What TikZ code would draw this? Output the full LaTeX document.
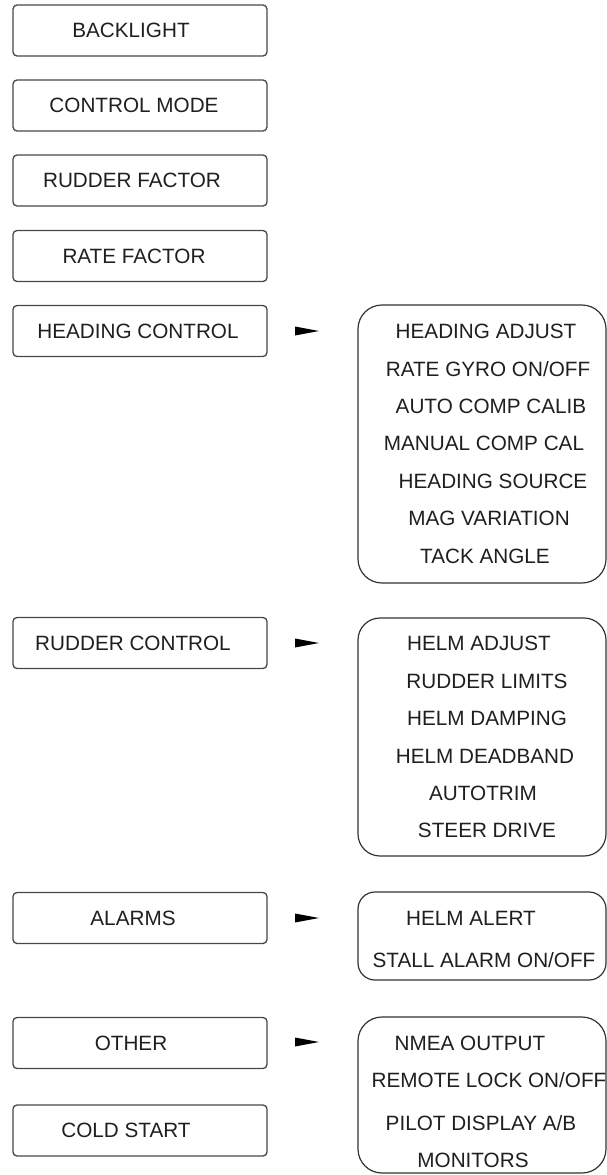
\documentclass[tikz,border=0pt]{standalone}
\usepackage{fontspec}
\setmainfont{Liberation Sans}
\begin{document}
\begin{tikzpicture}[x=1pt,y=-1pt,
  menubox/.style={draw=black!72,line width=1.3pt,rounded corners=4pt,
    minimum width=254pt,minimum height=51pt,inner sep=0pt},
  subbox/.style={draw=black!80,line width=1.2pt,inner sep=0pt},
  itemtext/.style={inner sep=0pt,text=black!88,
    font=\fontsize{20.7}{24}\selectfont},
  pointer/.style={fill=black}
]
\useasboundingbox (0,0) rectangle (607,1175);

% main menu entries
\node[menubox] (bl) at (140,30.5) {};
\node[itemtext] (blt) at (131,30.5) {BACKLIGHT};
\node[menubox] (cm) at (140,105.5) {};
\node[itemtext] (cmt) at (134,105.5) {CONTROL MODE};
\node[menubox] (rf) at (140,180.5) {};
\node[itemtext] (rft) at (132,180.5) {RUDDER FACTOR};
\node[menubox] (rtf) at (140,256) {};
\node[itemtext] (rtft) at (134,256) {RATE FACTOR};
\node[menubox] (hc) at (140,331) {};
\node[itemtext] (hct) at (138,331) {HEADING CONTROL};
\node[menubox] (rc) at (140,643) {};
\node[itemtext] (rct) at (133,643) {RUDDER CONTROL};
\node[menubox] (al) at (140,918) {};
\node[itemtext] (alt) at (133,918) {ALARMS};
\node[menubox] (ot) at (140,1043) {};
\node[itemtext] (ott) at (131,1043) {OTHER};
\node[menubox] (cs) at (140,1130.5) {};
\node[itemtext] (cst) at (126,1130.5) {COLD START};

% submenu frames
\node[subbox,rounded corners=24pt,minimum width=248pt,minimum height=278pt] (hcs) at (482,444) {};
\node[subbox,rounded corners=22pt,minimum width=248pt,minimum height=238pt] (rcs) at (482,737) {};
\node[subbox,rounded corners=17pt,minimum width=248pt,minimum height=88pt] (als) at (482,936) {};
\node[subbox,rounded corners=24pt,minimum width=248pt,minimum height=156pt] (ots) at (482,1095) {};

% pointers from entries to their submenus
\coordinate (p1) at (295,331);
\coordinate (p2) at (295,643);
\coordinate (p3) at (295,918);
\coordinate (p4) at (295,1042);
\foreach \p in {p1,p2,p3,p4}
  \fill[pointer] (\p) ++(0,-4.5) -- ++(24,4.5) -- ++(-24,4.5) -- cycle;

% heading control items
\node[itemtext] (h1) at (486,331) {HEADING ADJUST};
\node[itemtext] (h2) at (488,369) {RATE GYRO ON/OFF};
\node[itemtext] (h3) at (491,406) {AUTO COMP CALIB};
\node[itemtext] (h4) at (484,443) {MANUAL COMP CAL};
\node[itemtext] (h5) at (493,481) {HEADING SOURCE};
\node[itemtext] (h6) at (489,518) {MAG VARIATION};
\node[itemtext] (h7) at (485,556) {TACK ANGLE};

% rudder control items
\node[itemtext] (r1) at (479,643) {HELM ADJUST};
\node[itemtext] (r2) at (487,681) {RUDDER LIMITS};
\node[itemtext] (r3) at (487,718) {HELM DAMPING};
\node[itemtext] (r4) at (485,756) {HELM DEADBAND};
\node[itemtext] (r5) at (483,793) {AUTOTRIM};
\node[itemtext] (r6) at (487,830) {STEER DRIVE};

% alarm items
\node[itemtext] (a1) at (471,918) {HELM ALERT};
\node[itemtext] (a2) at (484,960) {STALL ALARM ON/OFF};

% other items
\node[itemtext] (o1) at (470,1043) {NMEA OUTPUT};
\node[itemtext] (o2) at (489,1080) {REMOTE LOCK ON/OFF};
\node[itemtext] (o3) at (481,1123) {PILOT DISPLAY A/B};
\node[itemtext] (o4) at (473,1160) {MONITORS};
\end{tikzpicture}
\end{document}
